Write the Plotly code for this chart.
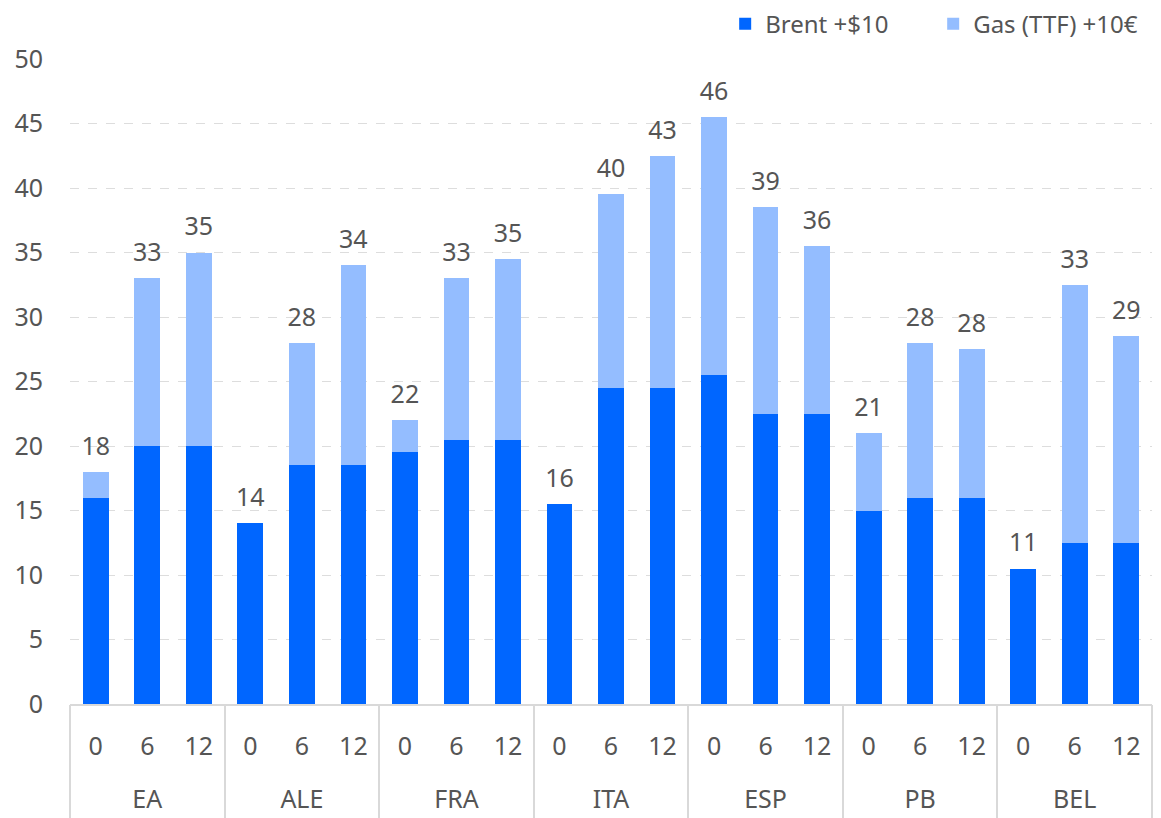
import math
import plotly.graph_objects as go

countries = ["EA", "ALE", "FRA", "ITA", "ESP", "PB", "BEL"]
horizons = ["0", "6", "12"]
brent = [16, 20, 20, 14, 18.5, 18.5, 19.5, 20.5, 20.5, 15.5, 24.5, 24.5,
         25.5, 22.5, 22.5, 15, 16, 16, 10.5, 12.5, 12.5]
gas = [2, 13, 15, 0, 9.5, 15.5, 2.5, 12.5, 14, 0, 15, 18,
       20, 16, 13, 6, 12, 11.5, 0, 20, 16]

inner = [h for _ in countries for h in horizons]
idx = list(range(len(inner)))
k = len(horizons)
group_centers = [g * k + (k - 1) / 2 for g in range(len(countries))]
group_edges = [g * k - 0.5 for g in range(len(countries) + 1)]
totals = [b + g for b, g in zip(brent, gas)]
labels = [str(int(math.floor(t + 0.5))) for t in totals]

FONT = "Noto Sans"
TXT = "#555555"
GRID = "#d9d9d9"
FS = 25
xr = [-0.5, len(inner) - 0.5]

fig = go.Figure()
fig.add_trace(go.Bar(x=idx, y=brent, name="Brent +$10",
                     marker=dict(color="#0066FF", line=dict(width=0))))
fig.add_trace(go.Bar(x=idx, y=gas, name="Gas (TTF) +10€",
                     marker=dict(color="#94BDFF", line=dict(width=0))))
fig.add_trace(go.Scatter(x=idx, y=totals, text=labels, mode="markers+text",
                         marker=dict(size=16, color="rgba(0,0,0,0)"),
                         textposition="top center", showlegend=False,
                         textfont=dict(size=FS, color=TXT, family=FONT),
                         hoverinfo="skip", cliponaxis=False))

fig.update_layout(
    width=1153, height=810,
    barmode="stack", bargap=0.5,
    plot_bgcolor="white", paper_bgcolor="white",
    margin=dict(l=62, r=9, t=51, b=114, autoexpand=False),
    font=dict(family=FONT, size=FS, color=TXT),
    legend=dict(orientation="h", x=0.99, xanchor="right", y=1.054, yanchor="middle",
                yref="paper", font=dict(size=24, color=TXT), traceorder="normal",
                itemwidth=30, tracegroupgap=0, entrywidth=163),
    xaxis=dict(range=xr, tickmode="array", tickvals=idx, ticktext=inner,
               showline=True, linecolor=GRID, linewidth=2,
               tickfont=dict(size=FS, color=TXT), showgrid=False, ticks="",
               zeroline=False, ticklabelstandoff=19, automargin=False),
    xaxis2=dict(range=xr, overlaying="x", side="bottom", anchor="y",
                tickmode="array", tickvals=group_centers, ticktext=countries,
                tickfont=dict(size=FS, color=TXT), showgrid=False, showline=False,
                ticks="", zeroline=False, ticklabelstandoff=78, automargin=False),
    xaxis3=dict(range=xr, overlaying="x", side="bottom", anchor="y",
                tickmode="array", tickvals=group_edges, showticklabels=False,
                ticks="outside", ticklen=114, tickwidth=2, tickcolor=GRID,
                showgrid=False, showline=False, zeroline=False, automargin=False),
    yaxis=dict(range=[0, 50], dtick=5, showgrid=True, gridcolor="#dddddd",
               griddash="dash", gridwidth=1, zeroline=False, showline=False,
               tickfont=dict(size=FS, color=TXT), ticklabelstandoff=26,
               automargin=False),
)
# invisible helper traces so the helper axes are rendered
fig.add_trace(go.Scatter(x=[xr[0]], y=[0], xaxis="x2", mode="markers",
                         marker=dict(opacity=0), showlegend=False, hoverinfo="skip"))
fig.add_trace(go.Scatter(x=[xr[0]], y=[0], xaxis="x3", mode="markers",
                         marker=dict(opacity=0), showlegend=False, hoverinfo="skip"))

fig.write_html("out.html")
